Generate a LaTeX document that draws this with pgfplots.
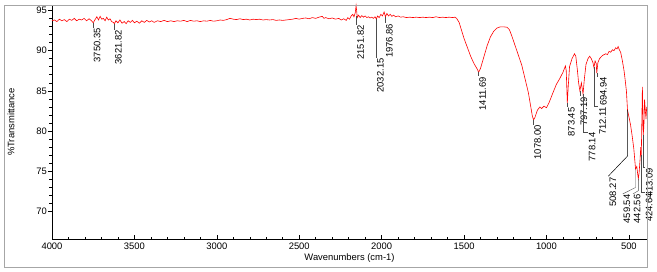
\documentclass[border=0pt]{standalone}
\usepackage{fontspec}
\setmainfont{Liberation Sans}
\usepackage{pgfplots}
\pgfplotsset{compat=1.18}
\newcommand{\lbl}{\fontsize{9.4}{11}\selectfont}
\begin{document}
\begin{tikzpicture}
\begin{axis}[
  width=595pt, height=234pt, scale only axis,
  x dir=reverse,
  xmin=390, xmax=4000, ymin=66.6, ymax=95.66,
  axis lines=left, axis line style={-, black, line width=0.8pt},
  xtick={500,1000,...,4000}, ytick={70,75,...,95},
  minor x tick num=4, minor y tick num=4,
  xtick align=inside, ytick align=outside,
  major tick length=4pt, minor tick length=2.5pt,
  tick style={black, line width=0.5pt},
  /pgf/number format/assume math mode=true,
  /pgf/number format/1000 sep={},
  ticklabel style={font=\lbl},
  yticklabel style={inner sep=1pt},
  xlabel={Wavenumbers (cm-1)}, ylabel={\%Transmittance},
  label style={font=\lbl},
  xlabel style={at={(axis description cs:0.5,-0.083)}, anchor=center},
  ylabel style={at={(axis description cs:-0.069,0.5)}, anchor=center, rotate=0},
  clip=false,
]
\addplot[red, line width=0.6pt] coordinates {
(4000,93.7)(3985,93.8)(3970,93.6)(3955,93.9)(3940,93.7)(3925,93.85)(3910,93.6)(3895,93.9)
(3880,93.75)(3865,94.0)(3850,93.7)(3835,93.9)(3820,93.8)(3805,94.0)(3790,93.7)(3775,93.95)
(3760,93.7)(3750,93.45)(3740,93.8)(3728,94.2)(3718,93.8)(3708,94.25)(3698,93.9)(3688,94.0)
(3678,93.7)(3668,94.15)(3658,93.8)(3648,93.95)(3638,93.6)(3628,93.5)(3621,93.35)(3612,93.7)
(3600,93.45)(3588,93.8)(3575,93.4)(3562,93.6)(3550,93.35)(3538,93.7)(3525,93.5)(3512,93.75)
(3500,93.45)(3485,93.65)(3470,93.4)(3455,93.7)(3440,93.5)(3425,93.75)(3410,93.55)(3395,93.7)
(3380,93.5)(3360,93.7)(3340,93.6)(3320,93.75)(3300,93.6)(3280,93.7)(3260,93.6)(3240,93.7)
(3220,93.65)(3200,93.75)(3180,93.6)(3160,93.75)(3140,93.65)(3120,93.7)(3100,93.6)(3080,93.7)
(3060,93.65)(3040,93.75)(3020,93.65)(3000,93.7)(2980,93.8)(2960,93.75)(2940,93.85)(2920,94.0)
(2900,93.9)(2880,93.85)(2860,93.95)(2840,93.85)(2820,93.9)(2800,93.8)(2780,93.9)(2760,93.85)
(2740,93.9)(2720,93.8)(2700,93.85)(2680,93.8)(2660,93.85)(2640,93.75)(2620,93.8)(2600,93.75)
(2580,93.8)(2560,93.85)(2540,93.9)(2520,94.0)(2500,93.9)(2480,94.0)(2460,94.05)(2440,93.95)
(2420,94.1)(2400,94.0)(2380,94.15)(2360,94.25)(2350,94.0)(2340,94.1)(2320,93.95)(2300,94.05)
(2280,93.9)(2260,94.0)(2245,93.8)(2230,93.95)(2215,93.75)(2205,94.1)(2195,93.9)(2185,94.3)
(2175,94.5)(2168,94.2)(2160,94.7)(2155,95.6)(2151,94.8)(2148,94.1)(2140,94.4)(2130,94.1)
(2120,94.35)(2110,94.15)(2100,94.3)(2090,94.1)(2080,94.2)(2070,94.05)(2060,94.15)(2050,94.0)
(2040,94.2)(2032,93.9)(2025,94.3)(2015,94.1)(2005,94.5)(1995,94.3)(1985,94.8)(1977,94.2)
(1968,94.6)(1958,94.3)(1948,94.5)(1938,94.25)(1928,94.4)(1915,94.2)(1900,94.3)(1885,94.15)
(1870,94.2)(1850,94.1)(1830,94.15)(1810,94.1)(1790,94.15)(1770,94.1)(1750,94.15)(1730,94.1)
(1710,94.15)(1690,94.1)(1670,94.2)(1650,94.1)(1630,94.15)(1610,94.1)(1590,94.15)(1570,94.1)
(1555,94.15)(1545,94.0)(1530,93.5)(1515,92.5)(1500,91.5)(1480,90.4)(1460,89.3)(1440,88.4)
(1420,87.7)(1411.69,87.3)(1400,87.8)(1380,89.2)(1360,90.6)(1340,91.7)(1320,92.4)(1300,92.8)
(1280,92.95)(1260,92.95)(1240,92.9)(1225,92.6)(1210,91.8)(1190,90.6)(1170,89.4)(1160,88.8)
(1150,88.2)(1130,86.5)(1110,84.8)(1095,83.0)(1085,81.8)(1078,81.4)(1070,81.7)(1055,82.6)
(1040,83.0)(1030,82.8)(1015,83.1)(1000,82.9)(985,83.5)(960,84.8)(940,85.8)(920,86.5)
(900,87.3)(885,88.1)(880,87.5)(876,85.0)(873.45,83.5)(868,85.5)(860,88.0)(845,89.0)
(830,89.6)(822,89.3)(812,87.5)(805,86.0)(797.19,85.0)(788,86.0)(778.14,84.6)(770,86.5)
(760,88.3)(748,89.0)(738,89.3)(728,89.0)(718,88.5)(712.11,87.9)(705,88.7)(698,88.4)
(694.94,87.2)(688,88.5)(678,89.0)(660,89.4)(640,89.6)(630,89.5)(620,89.9)(610,89.8)
(600,90.1)(590,90.0)(580,90.35)(572,90.2)(565,90.5)(558,90.1)(550,89.8)(540,88.8)
(530,87.6)(525,86.8)(515,85.0)(508.27,82.6)(500,81.8)(490,80.8)(480,79.4)(470,77.8)
(459.54,75.3)(452,75.6)(446,74.6)(442.56,74.1)(438,74.8)(432,76.5)(428,78.0)(424.64,77.0)
(418,85.5)(413.09,79.5)(409,80.5)(405,83.9)(400,82.5)(396,81.5)(392,83.0)
};
% peak labels
\draw[black!70, line width=0.4pt] (axis cs:3750.35,93.45) -- (axis cs:3750.35,92.85);
\node[rotate=90, anchor=north east, inner sep=0.5pt, font=\lbl] at (axis cs:3750.35,92.85) {3750.35};
\draw[black!70, line width=0.4pt] (axis cs:3621.82,93.35) -- (axis cs:3621.82,92.6);
\node[rotate=90, anchor=north east, inner sep=0.5pt, font=\lbl] at (axis cs:3621.82,92.6) {3621.82};
\draw[black!70, line width=0.4pt] (axis cs:2151.82,94.3) -- (axis cs:2151.82,93.2);
\node[rotate=90, anchor=north east, inner sep=0.5pt, font=\lbl] at (axis cs:2151.82,93.2) {2151.82};
\draw[black!70, line width=0.4pt] (axis cs:2032.15,93.9) -- (axis cs:2032.15,89.1);
\node[rotate=90, anchor=north east, inner sep=0.5pt, font=\lbl] at (axis cs:2032.15,89.1) {2032.15};
\draw[black!70, line width=0.4pt] (axis cs:1976.86,94.2) -- (axis cs:1976.86,93.4);
\node[rotate=90, anchor=north east, inner sep=0.5pt, font=\lbl] at (axis cs:1976.86,93.4) {1976.86};
\draw[black!70, line width=0.4pt] (axis cs:1411.69,87.3) -- (axis cs:1411.69,86.8);
\node[rotate=90, anchor=north east, inner sep=0.5pt, font=\lbl] at (axis cs:1411.69,86.8) {1411.69};
\draw[black!70, line width=0.4pt] (axis cs:1078,81.4) -- (axis cs:1078,80.8);
\node[rotate=90, anchor=north east, inner sep=0.5pt, font=\lbl] at (axis cs:1078,80.8) {1078.00};
\draw[black!70, line width=0.4pt] (axis cs:873.45,83.5) -- (axis cs:873.45,83.0);
\node[rotate=90, anchor=north east, inner sep=0.5pt, font=\lbl] at (axis cs:873.45,83.0) {873.45};
\draw[black!70, line width=0.4pt] (axis cs:797.19,85.0) -- (axis cs:797.19,84.3);
\node[rotate=90, anchor=north east, inner sep=0.5pt, font=\lbl] at (axis cs:797.19,84.3) {797.19};
\draw[black!70, line width=0.4pt] (axis cs:778.14,84.6) -- (axis cs:778.14,79.9) -- (axis cs:747,79.9);
\node[rotate=90, anchor=north east, inner sep=0.5pt, font=\lbl] at (axis cs:747,79.9) {778.14};
\draw[black!70, line width=0.4pt] (axis cs:712.11,87.9) -- (axis cs:712.11,83.1) -- (axis cs:690,83.1);
\node[rotate=90, anchor=north east, inner sep=0.5pt, font=\lbl] at (axis cs:683,83.1) {712.11};
\draw[black!70, line width=0.4pt] (axis cs:694.94,87.2) -- (axis cs:694.94,86.8) -- (axis cs:685,86.8);
\node[rotate=90, anchor=north east, inner sep=0.5pt, font=\lbl] at (axis cs:679,86.8) {694.94};
\draw[black, line width=0.5pt] (axis cs:508.27,82.6) -- (axis cs:508.27,76.9) -- (axis cs:625,74.4);
\node[rotate=90, anchor=north east, inner sep=0.5pt, font=\lbl] at (axis cs:622,74.3) {508.27};
\draw[black!70, line width=0.4pt] (axis cs:459.54,75.3) -- (axis cs:459.54,73.0) -- (axis cs:537,72.2);
\node[rotate=90, anchor=north east, inner sep=0.5pt, font=\lbl] at (axis cs:537,72.2) {459.54};
\draw[black!70, line width=0.4pt] (axis cs:442.56,74.1) -- (axis cs:442.56,72.6) -- (axis cs:475,72.2);
\node[rotate=90, anchor=north east, inner sep=0.5pt, font=\lbl] at (axis cs:475,72.2) {442.56};
\draw[black!70, line width=0.4pt] (axis cs:424.64,77.0) -- (axis cs:424.64,72.4) -- (axis cs:402,72.4);
\node[rotate=90, anchor=north east, inner sep=0.5pt, font=\lbl] at (axis cs:402,72.4) {424.64};
\draw[black!70, line width=0.4pt] (axis cs:413.09,79.5) -- (axis cs:413.09,75.5) -- (axis cs:400,75.5);
\node[rotate=90, anchor=north east, inner sep=0.5pt, font=\lbl] at (axis cs:400,75.5) {413.09};
% outer frame and page size
\draw[black!35, line width=0.8pt] (rel axis cs:-0.0807,-0.1197) rectangle (rel axis cs:1,1);
\path (rel axis cs:-0.0874,-0.1368) rectangle (rel axis cs:1.0168,1.0214);
\end{axis}
\end{tikzpicture}
\end{document}
